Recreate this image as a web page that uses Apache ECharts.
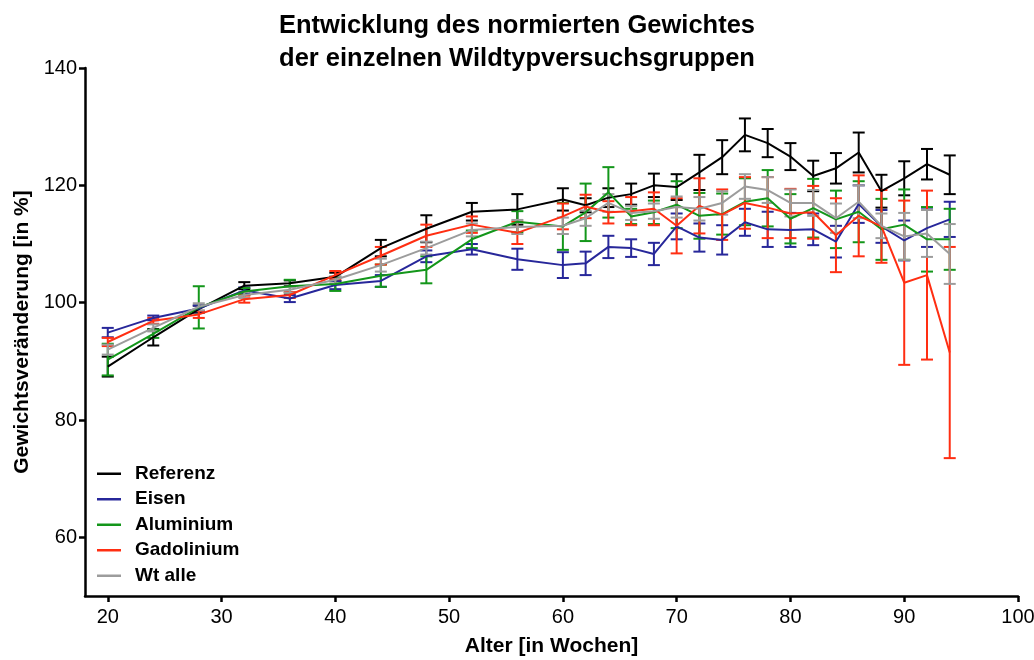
<!DOCTYPE html>
<html>
<head>
<meta charset="utf-8">
<script src="https://cdn.jsdelivr.net/npm/echarts@6/dist/echarts.min.js"></script>
<style>
  html, body { margin: 0; padding: 0; background: #fff; }
  #chart { width: 1034px; height: 660px; }
</style>
</head>
<body>
<div id="chart"></div>
<script>
// Alter in Wochen
const weeks = [20, 24, 28, 32, 36, 40, 44, 48, 52, 56, 60, 62, 64, 66, 68, 70, 72, 74, 76, 78, 80, 82, 84, 86, 88, 90, 92, 94]

// Mittelwerte (normiertes Gewicht in %)
const referenz   = [89.1, 94.1, 98.9, 102.9, 103.3, 104.4, 109.3, 112.6, 115.5, 115.9, 117.6, 116.6, 117.9, 118.5, 120.0, 119.7, 122.2, 124.8, 128.6, 127.2, 124.9, 121.6, 122.9, 125.6, 119.0, 121.2, 123.6, 121.8]
const eisen      = [94.9, 97.4, 99.0, 102.1, 100.7, 103.0, 103.7, 107.9, 109.1, 107.4, 106.4, 106.7, 109.5, 109.3, 108.3, 113.0, 111.1, 110.7, 113.7, 112.5, 112.4, 112.5, 110.4, 116.8, 113.0, 110.6, 112.7, 114.2]
const aluminium  = [90.3, 94.7, 99.2, 101.9, 102.8, 103.2, 104.6, 105.6, 110.8, 113.8, 113.0, 115.4, 118.8, 114.7, 115.4, 116.7, 114.8, 115.1, 117.2, 117.8, 114.3, 116.1, 114.2, 115.5, 112.5, 113.3, 110.8, 110.8]
const gadolinium = [93.3, 96.9, 98.0, 100.6, 101.3, 104.7, 108.0, 111.4, 113.3, 111.9, 114.7, 116.4, 115.4, 115.6, 116.0, 113.1, 116.5, 115.0, 117.0, 116.2, 115.2, 115.4, 111.5, 114.8, 113.0, 103.4, 104.7, 91.5]
const wtAlle     = [92.0, 95.7, 99.3, 101.3, 102.2, 103.9, 106.4, 109.3, 112.4, 112.9, 113.1, 114.4, 117.0, 115.3, 115.6, 116.3, 116.0, 117.0, 119.8, 119.2, 117.0, 117.0, 114.4, 117.2, 113.1, 111.3, 111.8, 108.3]

// Fehlerbalken (+/-)
const referenzErr   = [1.7, 1.4, 0.6, 0.6, 0.5, 0.7, 1.4, 2.3, 1.5, 2.6, 1.9, 1.2, 1.6, 1.8, 2.0, 2.2, 3.0, 2.9, 2.8, 2.4, 2.3, 2.6, 2.6, 3.4, 2.8, 2.9, 2.6, 3.3]
const eisenErr      = [0.8, 0.4, 0.5, 0.5, 0.6, 0.7, 1.0, 1.0, 0.9, 1.8, 2.2, 2.0, 1.9, 1.5, 1.9, 2.2, 2.4, 2.5, 2.3, 3.0, 2.9, 2.7, 2.7, 3.2, 2.8, 3.4, 3.2, 3.0]
const aluminiumErr  = [2.7, 0.7, 3.6, 0.6, 1.1, 1.2, 1.9, 2.3, 1.5, 1.8, 4.0, 4.9, 4.3, 1.3, 2.0, 4.0, 3.9, 3.5, 4.0, 4.8, 4.2, 5.0, 4.9, 5.2, 5.2, 6.0, 5.5, 5.2]
const gadoliniumErr = [0.7, 0.5, 0.6, 0.6, 0.5, 0.7, 1.5, 1.9, 1.4, 1.9, 2.2, 2.0, 1.9, 2.4, 2.8, 4.7, 4.7, 4.3, 4.4, 5.2, 4.2, 4.5, 6.3, 6.9, 6.2, 14.0, 14.4, 18.0]
const wtAlleErr     = [0.85, 0.6, 0.6, 0.5, 0.5, 0.6, 1.1, 1.1, 1.1, 1.2, 1.4, 1.3, 1.5, 1.2, 1.3, 1.8, 2.0, 2.0, 2.1, 2.2, 2.3, 2.2, 2.5, 2.8, 2.1, 4.0, 4.0, 5.1]

const xTicks = [20, 30, 40, 50, 60, 70, 80, 90, 100]
const yTicks = [60, 80, 100, 120, 140]

const groups = [
  { name: 'Referenz',   color: '#000000', values: referenz,   err: referenzErr },
  { name: 'Eisen',      color: '#27279a', values: eisen,      err: eisenErr },
  { name: 'Aluminium',  color: '#13961a', values: aluminium,  err: aluminiumErr },
  { name: 'Gadolinium', color: '#ff2e12', values: gadolinium, err: gadoliniumErr },
  { name: 'Wt alle',    color: '#9c9c9c', values: wtAlle,     err: wtAlleErr }
]

const chart = echarts.init(document.getElementById('chart'))

const errorBar = (color) => (params, api) => {
  const x = api.value(0)
  const top = api.coord([x, api.value(2)])
  const bottom = api.coord([x, api.value(1)])
  const half = 6
  const style = { stroke: color, lineWidth: 2 }
  return {
    type: 'group',
    children: [
      { type: 'line', shape: { x1: top[0], y1: top[1], x2: bottom[0], y2: bottom[1] }, style },
      { type: 'line', shape: { x1: top[0] - half, y1: top[1], x2: top[0] + half, y2: top[1] }, style },
      { type: 'line', shape: { x1: bottom[0] - half, y1: bottom[1], x2: bottom[0] + half, y2: bottom[1] }, style }
    ]
  }
}

const series = []
groups.forEach(g => {
  series.push({
    name: g.name,
    type: 'line',
    data: weeks.map((w, i) => [w, g.values[i]]),
    symbol: 'none',
    lineStyle: { color: g.color, width: 2 },
    itemStyle: { color: g.color },
    animation: false
  })
  series.push({
    name: g.name + ' SEM',
    type: 'custom',
    renderItem: errorBar(g.color),
    data: weeks.map((w, i) => [w, g.values[i] - g.err[i], g.values[i] + g.err[i]]),
    encode: { x: 0, y: [1, 2] },
    animation: false
  })
})

const font = "'Liberation Sans', Arial, sans-serif"

const option = {
  backgroundColor: '#ffffff',
  title: {
    text: 'Entwicklung des normierten Gewichtes\nder einzelnen Wildtypversuchsgruppen',
    left: 'center',
    top: 4,
    textStyle: { fontFamily: font, fontSize: 25.5, fontWeight: 'bold', color: '#000', lineHeight: 33 }
  },
  legend: {
    data: groups.map(g => ({ name: g.name, itemStyle: { color: g.color } })),
    orient: 'vertical',
    left: 97,
    top: 461,
    padding: 0,
    icon: 'rect',
    itemWidth: 24,
    itemHeight: 2.5,
    itemGap: 0,
    selectedMode: false,
    textStyle: { fontFamily: font, fontSize: 19, fontWeight: 'bold', color: '#000', lineHeight: 25.5, padding: [0, 0, 0, 9] }
  },
  grid: { left: 85, right: 16, top: 68, bottom: 64, outerBoundsMode: 'none' },
  xAxis: {
    type: 'value',
    min: 18,
    max: 100,
    name: 'Alter [in Wochen]',
    nameLocation: 'middle',
    nameGap: 40,
    nameTextStyle: { fontFamily: font, fontSize: 21, fontWeight: 'bold', color: '#000' },
    axisLine: { lineStyle: { color: '#000', width: 2.5 } },
    axisTick: { customValues: xTicks, length: 6, lineStyle: { color: '#000', width: 2.5 } },
    axisLabel: { customValues: xTicks, fontFamily: font, fontSize: 20, color: '#000', margin: 11 },
    splitLine: { show: false }
  },
  yAxis: {
    type: 'value',
    min: 50,
    max: 140,
    name: 'Gewichtsveränderung [in %]',
    nameLocation: 'middle',
    nameGap: 52,
    nameRotate: 90,
    nameTextStyle: { fontFamily: font, fontSize: 21, fontWeight: 'bold', color: '#000' },
    axisLine: { show: true, lineStyle: { color: '#000', width: 2.5 } },
    axisTick: { show: true, customValues: yTicks, length: 6, lineStyle: { color: '#000', width: 2.5 } },
    axisLabel: { customValues: yTicks, fontFamily: font, fontSize: 20, color: '#000', margin: 8 },
    splitLine: { show: false }
  },
  series
}

chart.setOption(option)
</script>
</body>
</html>
